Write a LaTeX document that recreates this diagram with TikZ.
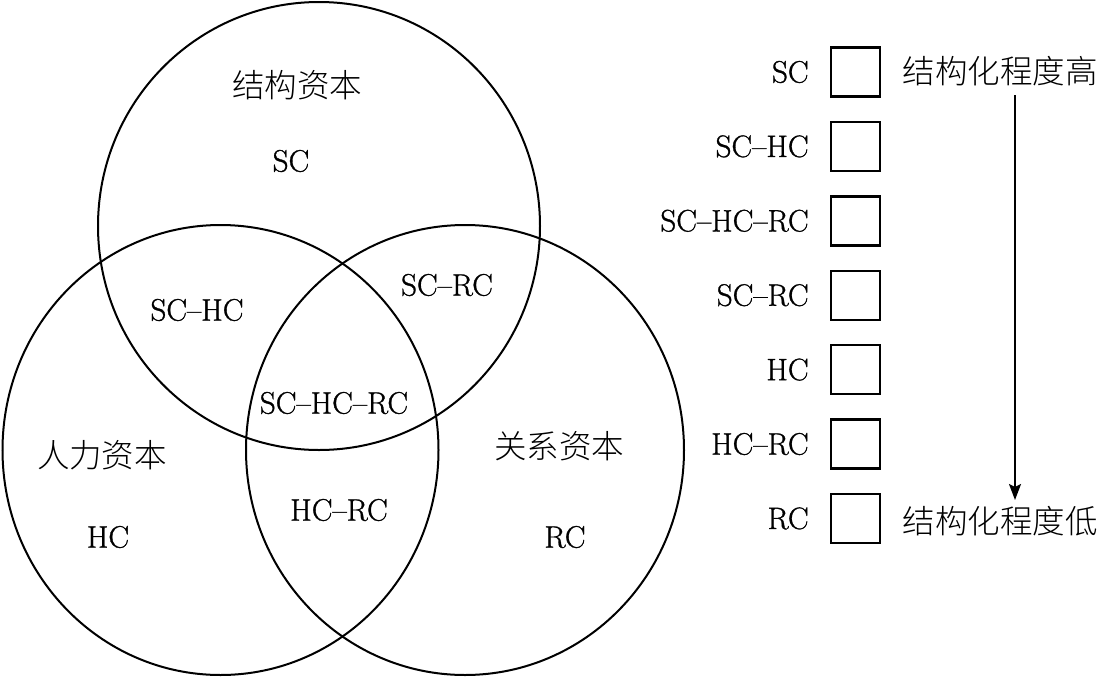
\documentclass[tikz,border=0pt]{standalone}
\usepackage{fontspec}
\newfontfamily\cjk[UprightFont=* Light]{Noto Sans CJK SC}
\newfontfamily\latin[Ligatures=TeX,FakeBold=1]{Latin Modern Roman}
\usetikzlibrary{positioning,arrows.meta}
\tikzset{
  venn/.style={line width=2pt},
  lat/.style={font=\latin\fontsize{31}{36}\selectfont, inner sep=0pt},
  zh/.style={font=\cjk\fontsize{32.5}{38}\selectfont, inner sep=0pt},
  legbox/.style={draw, line width=2.4pt, minimum size=49pt, inner sep=0pt},
}
\begin{document}
\begin{tikzpicture}[x=1pt,y=-1pt]
  \useasboundingbox (0,0) rectangle (1104,678);

  % Draw the circles
  \draw[venn] (319,226) circle [x radius=221, y radius=224];
  \draw[venn] (220.5,450) circle [x radius=218, y radius=225];
  \draw[venn] (465,450) circle [x radius=219, y radius=225];

  % Names of the capitals
  \node[zh] (sc-name) at (297,85) {结构资本};
  \node[zh] (hc-name) at (102,455) {人力资本};
  \node[zh] (rc-name) at (559,446) {关系资本};

  % Labels of the regions
  \foreach \name/\x/\y/\txt in {sc/291/161/SC, schc/197/310/SC--HC, scrc/447/285/SC--RC,
      schcrc/334/403/SC--HC--RC, hcrc/339/510/HC--RC, hc/108/537/HC, rc/565/537/RC} {
    \node[lat] (\name) at (\x,\y) {\txt};
  }

  % Legend boxes and keys
  \foreach \i/\txt in {0/SC, 1/SC--HC, 2/SC--HC--RC, 3/SC--RC, 4/HC, 5/HC--RC, 6/RC} {
    \node[legbox] (box\i) at (855.5,{72+74.4*\i}) {};
    \node[lat, left=21pt of box\i] (key\i) {\txt};
  }

  \node[zh] (high) at (1000,71) {结构化程度高};
  \node[zh] (low) at (1000,521) {结构化程度低};
  \coordinate (hi) at (1015,95);
  \coordinate (lo) at (1015,500);
  \draw[line width=2pt, -{Stealth[length=16pt,width=12pt,inset=3pt]}] (hi) -- (lo);
\end{tikzpicture}
\end{document}
